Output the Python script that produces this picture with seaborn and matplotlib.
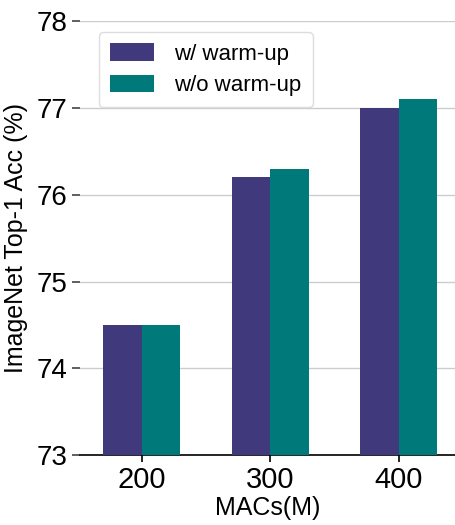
import numpy as np
import pandas as pd
import matplotlib
matplotlib.use('Agg')
import matplotlib.pyplot as plt
import seaborn as sns

# data
macs = ['200', '300', '400']
acc_warmup = [74.5, 76.2, 77.0]
acc_no_warmup = [74.5, 76.3, 77.1]
labels = ['w/ warm-up', 'w/o warm-up']
colors = ['#403a7d', '#00797b']

df = pd.DataFrame({
    'MACs': macs * 2,
    'acc': acc_warmup + acc_no_warmup,
    'setting': [labels[0]] * 3 + [labels[1]] * 3,
})

sns.set_style("whitegrid", {'xtick.bottom': True, 'ytick.left': True,
                            'text.color': 'black', 'axes.labelcolor': 'black',
                            'xtick.color': 'black', 'ytick.color': 'black'})
plt.rcParams['font.family'] = ['Liberation Sans', 'DejaVu Sans']

fig = plt.figure(figsize=(4.55, 5.25), dpi=100)
ax = fig.add_axes([0.176, 0.133, 0.824, 0.827])

sns.barplot(data=df, x='MACs', y='acc', hue='setting', palette=colors,
            width=0.6, saturation=1, ax=ax, zorder=3, linewidth=0)

ax.set_ylim(73, 78)
ax.set_xlim(-0.48, 2.44)
ax.set_yticks([73, 74, 75, 76, 77, 78])
ax.grid(axis='x', visible=False)
ax.grid(axis='y', color='#cccccc', linewidth=1)
ax.set_axisbelow(True)

for s in ['left', 'right', 'top']:
    ax.spines[s].set_visible(False)
ax.spines['bottom'].set_color('black')
ax.spines['bottom'].set_linewidth(1.2)

ax.tick_params(axis='y', which='major', labelsize=20, length=6, width=1.2,
               color='#444444', direction='out', pad=3, left=True)
ax.tick_params(axis='x', which='major', labelsize=21, length=5, width=1.2,
               color='black', direction='out', bottom=True, pad=3)

ax.set_xlabel('MACs(M)', fontsize=18, labelpad=1)
ax.set_ylabel('ImageNet Top-1 Acc (%)', fontsize=18, labelpad=6)

ax.legend(loc='upper left', bbox_to_anchor=(0.02, 1.0), fontsize=16,
          handlelength=2.0, handleheight=0.85, frameon=True, framealpha=1,
          edgecolor='#dddddd', borderpad=0.5, labelspacing=0.45,
          handletextpad=0.9)

fig.savefig('out.png', dpi=100)
